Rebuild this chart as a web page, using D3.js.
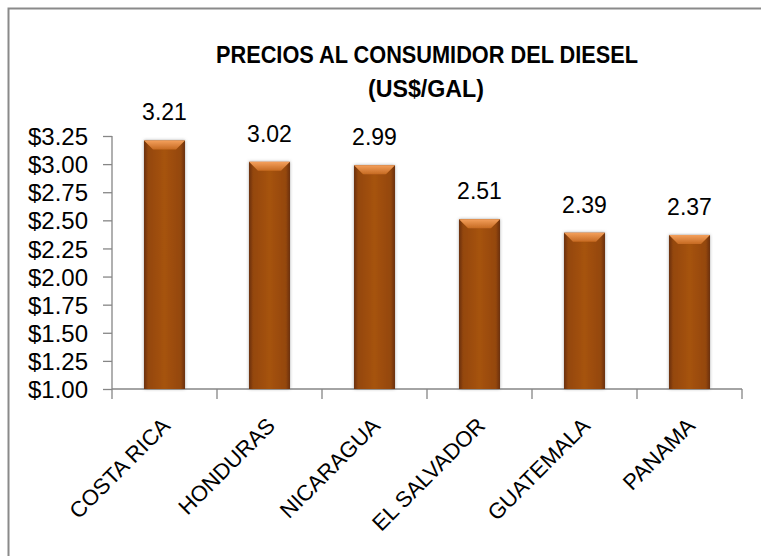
<!DOCTYPE html>
<html>
<head>
  <meta charset="utf-8">
  <title>Precios al consumidor del diesel</title>
  <script src="https://d3js.org/d3.v7.min.js"></script>
  <style>
    body { margin: 0; background: #fff; }
    svg text { font-family: "Liberation Sans", Arial, sans-serif; fill: #000; }
  </style>
</head>
<body>
<div id="chart"></div>
<script>
  // data
  var paises = ["COSTA RICA", "HONDURAS", "NICARAGUA", "EL SALVADOR", "GUATEMALA", "PANAMA"];
  var precios = [3.21, 3.02, 2.99, 2.51, 2.39, 2.37];
  var yTicks = [1.00, 1.25, 1.50, 1.75, 2.00, 2.25, 2.50, 2.75, 3.00, 3.25];
  var titulo = ["PRECIOS AL CONSUMIDOR DEL DIESEL", "(US$/GAL)"];

  var W = 761, H = 556;
  var m = {left: 112, right: 19, top: 136, bottom: 167};

  var svg = d3.select("#chart").append("svg")
      .attr("width", W).attr("height", H);

  var defs = svg.append("defs");
  var grad = defs.append("linearGradient").attr("id", "barGrad")
      .attr("x1", "0%").attr("x2", "100%").attr("y1", "0%").attr("y2", "0%");
  [["0%", "#6a3005"], ["10%", "#94470b"], ["50%", "#a6530f"], ["90%", "#94470b"], ["100%", "#6a3005"]]
    .forEach(function (s) { grad.append("stop").attr("offset", s[0]).attr("stop-color", s[1]); });

  var bev = defs.append("linearGradient").attr("id", "bevGrad")
      .attr("x1", "0%").attr("x2", "0%").attr("y1", "0%").attr("y2", "100%");
  bev.append("stop").attr("offset", "0%").attr("stop-color", "#f4a05c");
  bev.append("stop").attr("offset", "100%").attr("stop-color", "#c66a22");

  var sh = defs.append("filter").attr("id", "shadow")
      .attr("x", "-20%").attr("y", "-5%").attr("width", "140%").attr("height", "110%");
  sh.append("feDropShadow").attr("dx", 0).attr("dy", 0)
      .attr("stdDeviation", 1.6).attr("flood-color", "#555").attr("flood-opacity", 0.55);

  // outer chart border (only top and left fall inside the picture)
  svg.append("rect")
      .attr("x", 8.5).attr("y", 8.5).attr("width", 800).attr("height", 600)
      .attr("fill", "none").attr("stroke", "#8a8a8a").attr("stroke-width", 2);

  var x = d3.scaleBand().domain(paises).range([m.left, W - m.right]).padding(0);
  var y = d3.scaleLinear().domain([1, 3.25]).range([H - m.bottom, m.top]);

  // title
  var t = svg.append("g").attr("font-weight", "bold");
  t.append("text").attr("x", 427).attr("y", 63).attr("text-anchor", "middle")
      .attr("font-size", 24).attr("textLength", 422).attr("lengthAdjust", "spacingAndGlyphs")
      .text(titulo[0]);
  t.append("text").attr("x", 426).attr("y", 97).attr("text-anchor", "middle")
      .attr("font-size", 24).attr("textLength", 116).attr("lengthAdjust", "spacingAndGlyphs")
      .text(titulo[1]);

  // y axis
  var yAxis = svg.append("g").attr("transform", "translate(" + m.left + ",0)")
      .call(d3.axisLeft(y).tickValues(yTicks).tickSize(9).tickPadding(15)
        .tickFormat(function (d) { return "$" + d.toFixed(2); }));
  yAxis.selectAll("path, line").attr("stroke", "#868686").attr("stroke-width", 1.3);
  yAxis.select(".domain").attr("d", "M0," + y(3.25) + "V" + y(1));
  yAxis.selectAll("text").attr("font-size", 24).attr("dy", "0.36em")
      .style("font-family", "'Liberation Sans', Arial, sans-serif").attr("fill", "#000");

  // x axis, ticks at category boundaries
  var xg = svg.append("g").attr("transform", "translate(0," + y(1) + ")");
  xg.append("line").attr("x1", m.left).attr("x2", W - m.right)
      .attr("stroke", "#868686").attr("stroke-width", 1.3);
  var bounds = paises.map(function (p) { return x(p); }).concat([x(paises[paises.length - 1]) + x.bandwidth()]);
  xg.selectAll(".xt").data(bounds).enter().append("line")
      .attr("x1", function (d) { return d; }).attr("x2", function (d) { return d; })
      .attr("y1", 0).attr("y2", 10)
      .attr("stroke", "#868686").attr("stroke-width", 1.3);

  xg.selectAll(".xl").data(paises).enter().append("text")
      .attr("text-anchor", "end").attr("font-size", 22)
      .attr("transform", function (d) {
        return "translate(" + (x(d) + x.bandwidth() / 2 + 7) + ",38) rotate(-45)";
      })
      .text(function (d) { return d; });

  // bars
  var bw = x.bandwidth() * 0.39;
  var bars = svg.append("g").selectAll("g").data(precios).enter().append("g")
      .attr("filter", "url(#shadow)");
  bars.append("rect")
      .attr("x", function (d, i) { return x(paises[i]) + (x.bandwidth() - bw) / 2; })
      .attr("y", function (d) { return y(d); })
      .attr("width", bw)
      .attr("height", function (d) { return y(1) - y(d); })
      .attr("fill", "url(#barGrad)");
  bars.append("path")
      .attr("d", function (d, i) {
        var x0 = x(paises[i]) + (x.bandwidth() - bw) / 2, y0 = y(d), k = 9;
        return "M" + x0 + "," + y0 + "H" + (x0 + bw) + "L" + (x0 + bw - k) + "," + (y0 + k) +
          "H" + (x0 + k) + "Z";
      })
      .attr("fill", "url(#bevGrad)");

  // value labels
  svg.append("g").selectAll("text").data(precios).enter().append("text")
      .attr("x", function (d, i) { return x(paises[i]) + x.bandwidth() / 2; })
      .attr("y", function (d) { return y(d) - 20; })
      .attr("text-anchor", "middle").attr("font-size", 23)
      .text(function (d) { return d.toFixed(2); });
</script>
</body>
</html>
